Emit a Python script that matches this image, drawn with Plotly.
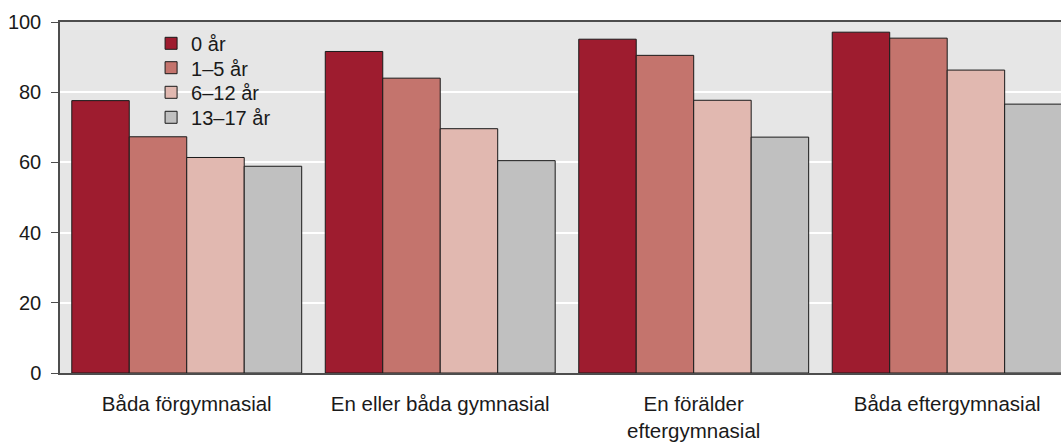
import plotly.graph_objects as go

categories = ["Båda förgymnasial", "En eller båda gymnasial", "En förälder<br>eftergymnasial", "Båda eftergymnasial"]
series_names = ["0 år", "1–5 år", "6–12 år", "13–17 år"]
v_0 = [77.6, 91.6, 95.1, 97.1]
v_1_5 = [67.3, 84.0, 90.5, 95.4]
v_6_12 = [61.4, 69.6, 77.7, 86.3]
v_13_17 = [58.9, 60.5, 67.2, 76.6]
y_ticks = [0, 20, 40, 60, 80, 100]

colors = ["#9e1c2f", "#c4746d", "#e1b8b0", "#c0c0c0"]
series_values = [v_0, v_1_5, v_6_12, v_13_17]
legend_ids = ["legend", "legend2", "legend3", "legend4"]
legend_y = [0.9393, 0.8698, 0.7997, 0.7285]

FONT = "Liberation Sans, Arial, sans-serif"
FS = 20

fig = go.Figure()
for name, vals, col, lid in zip(series_names, series_values, colors, legend_ids):
    fig.add_trace(go.Bar(
        x=categories, y=vals, name=name, legend=lid,
        marker=dict(color=col, line=dict(color="#1a1a1a", width=1)),
    ))

legend_layout = {}
for lid, ly in zip(legend_ids, legend_y):
    legend_layout[lid] = dict(
        x=0.091, y=ly, xanchor="left", yanchor="middle",
        bgcolor="rgba(0,0,0,0)", borderwidth=0,
        font=dict(family=FONT, size=FS, color="#1a1a1a"),
        itemwidth=30,
    )

# legend backdrop hiding the gridline behind the legend
fig.add_shape(
    type="rect", xref="paper", yref="paper",
    x0=0.0749, x1=0.2398, y0=0.70, y1=0.975,
    fillcolor="#e6e6e6", line=dict(width=0), layer="between",
)

fig.update_layout(
    width=1061, height=442,
    margin=dict(l=60, r=0, t=22, b=69),
    paper_bgcolor="white", plot_bgcolor="#e6e6e6",
    barmode="group", bargap=0.093, bargroupgap=0,
    font=dict(family=FONT, size=FS, color="#1a1a1a"),
    showlegend=True,
    xaxis=dict(
        range=[-0.5, 3.449],
        showgrid=False, zeroline=False,
        showline=True, mirror=True, linecolor="#4d4d4d", linewidth=1.5,
        ticks="outside", ticklen=12, tickcolor="rgba(0,0,0,0)",
        tickfont=dict(family=FONT, size=20.5, color="#1a1a1a"),
    ),
    yaxis=dict(
        range=[0, 100], tickvals=y_ticks,
        showgrid=True, gridcolor="white", gridwidth=2,
        zeroline=False,
        showline=True, linecolor="#4d4d4d", linewidth=1.5,
        ticks="outside", ticklen=7, tickcolor="#4d4d4d",
        ticklabelstandoff=6,
        tickfont=dict(family=FONT, size=FS, color="#1a1a1a"),
    ),
    **legend_layout,
)

fig.write_html("out.html", config={"displayModeBar": False},
               post_script="document.body.style.margin='0';")
